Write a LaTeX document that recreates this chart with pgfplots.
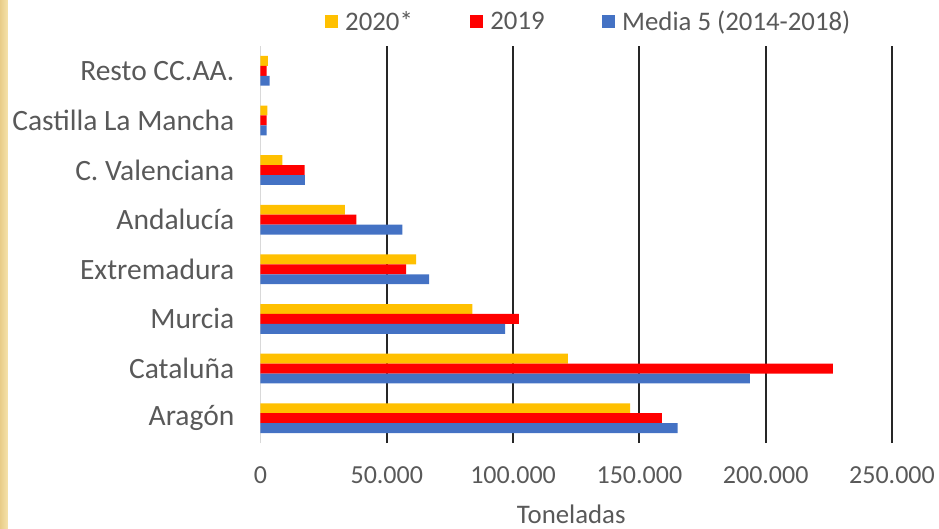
\documentclass[border=0pt]{standalone}
\usepackage{pgfplots}
\pgfplotsset{compat=1.18}
\usepackage{fontspec}
\setmainfont{Carlito}
\definecolor{cYel}{HTML}{FFC000}
\definecolor{cRed}{HTML}{FF0000}
\definecolor{cBlu}{HTML}{4472C4}
\definecolor{txt}{HTML}{595959}
\definecolor{grd}{HTML}{262626}
\definecolor{axg}{HTML}{D9D9D9}
\definecolor{goldA}{HTML}{E8CC88}
\definecolor{goldB}{HTML}{F6E3AB}
\begin{document}
\begin{tikzpicture}[x=1pt,y=1pt]
\begin{axis}[
  at={(0pt,0pt)}, anchor=south west,
  scale only axis,
  width=631.5pt, height=397pt,
  xbar, bar width=0.2,
  xmin=0, xmax=250000,
  ymin=-0.5, ymax=7.5,
  axis line style={draw=none},
  xtick={50000,100000,150000,200000,250000},
  extra x ticks={0},
  extra x tick style={grid style={draw=axg, line width=1.8pt}},
  xmajorgrids,
  grid style={draw=grd, line width=1.9pt},
  major tick length=0pt,
  scaled ticks=false,
  /pgf/number format/.cd, fixed, 1000 sep={.}, assume math mode=true, /pgfplots/.cd,
  xticklabel style={font=\fontsize{26}{30}\selectfont, text=txt, inner sep=0pt, anchor=north, yshift=-23pt},
  ytick={0,1,2,3,4,5,6,7},
  yticklabels={Aragón, Cataluña, Murcia, Extremadura, Andalucía, C. Valenciana, Castilla La Mancha, Resto CC.AA.},
  yticklabel style={font=\fontsize{29.5}{33}\selectfont, text=txt, inner sep=0pt, anchor=east, xshift=-26pt},
  xlabel={Toneladas},
  xlabel style={font=\fontsize{26.8}{30}\selectfont, text=txt, inner sep=0pt, at={(rel axis cs:0.5,0)}, anchor=base, yshift=-80pt, xshift=-5pt},
  legend columns=3,
  legend style={draw=none, fill=none, inner sep=0pt, at={(axis description cs:0,1)}, anchor=west,
    xshift=64pt, yshift=24.5pt, column sep=0pt,
    font=\fontsize{26.8}{30}\selectfont, text=txt,
    nodes={inner sep=0pt},
    /tikz/every odd column/.append style={column sep=7pt},
    /tikz/every even column/.append style={column sep=57pt}},
  legend image code/.code={\fill[#1, draw=none] (0pt,-6.5pt) rectangle (13.5pt,6.5pt);},
]
\addplot[fill=cYel, draw=none, bar shift=0.2] coordinates {
(146350,0) (121700,1) (83850,2) (61650,3) (33400,4) (8700,5) (2700,6) (2900,7)};
\addlegendentry{2020*}
\addplot[fill=cRed, draw=none, bar shift=0] coordinates {
(158850,0) (226560,1) (102260,2) (57700,3) (38000,4) (17450,5) (2400,6) (2400,7)};
\addlegendentry{2019}
\addplot[fill=cBlu, draw=none, bar shift=-0.2] coordinates {
(165100,0) (193750,1) (96875,2) (66800,3) (56200,4) (17550,5) (2400,6) (3650,7)};
\addlegendentry{Media 5 (2014-2018)}
\end{axis}
\pgfresetboundingbox
\shade[left color=goldA, right color=goldB] (-260.5pt,-85pt) rectangle (-252.5pt,443pt);
\path (-260.5pt,-85pt) rectangle (678.5pt,443pt);
\end{tikzpicture}
\end{document}
